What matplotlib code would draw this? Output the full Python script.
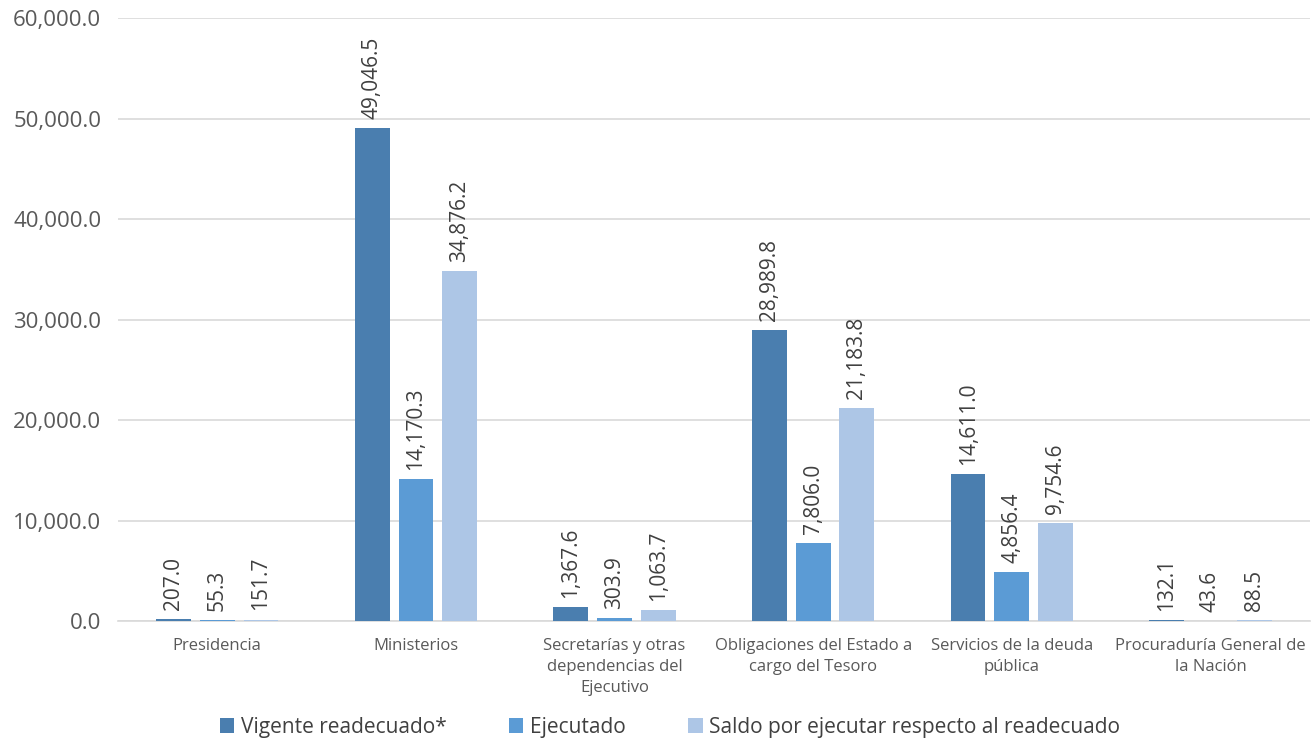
import numpy as np
import matplotlib
matplotlib.use("Agg")
import matplotlib.pyplot as plt
from matplotlib.ticker import FuncFormatter

plt.rcParams['font.family'] = ['Open Sans', 'DejaVu Sans']

categories = [
    "Presidencia",
    "Ministerios",
    "Secretarías y otras\ndependencias del\nEjecutivo",
    "Obligaciones del Estado a\ncargo del Tesoro",
    "Servicios de la deuda\npública",
    "Procuraduría General de\nla Nación",
]
series_names = ["Vigente readecuado*", "Ejecutado", "Saldo por ejecutar respecto al readecuado"]
vigente = [207.0, 49046.5, 1367.6, 28989.8, 14611.0, 132.1]
ejecutado = [55.3, 14170.3, 303.9, 7806.0, 4856.4, 43.6]
saldo = [151.7, 34876.2, 1063.7, 21183.8, 9754.6, 88.5]
colors = ["#4A7EAF", "#5B9BD5", "#ADC6E6"]

fig = plt.figure(figsize=(13.15, 7.38), dpi=100)
ax = fig.add_axes([0.0897, 0.1585, 0.9063, 0.817])

x = np.arange(len(categories))
width = 0.175
step = 0.22
for i, (vals, name, c) in enumerate(zip([vigente, ejecutado, saldo], series_names, colors)):
    pos = x + (i - 1) * step
    ax.bar(pos, vals, width, color=c, label=name, zorder=3)
    for xi, v in zip(pos, vals):
        ax.text(xi, v + 900, f"{v:,.1f}", rotation=90, ha='center', va='bottom',
                fontsize=15, color='#404040')

ax.set_xlim(-0.5, len(categories) - 0.5)
ax.set_ylim(0, 60000)
ax.set_yticks(np.arange(0, 60001, 10000))
ax.yaxis.set_major_formatter(FuncFormatter(lambda v, p: f"{v:,.1f}"))
ax.tick_params(axis='y', length=0, labelsize=16, labelcolor='#595959', pad=12)
ax.set_xticks(x)
ax.set_xticklabels(categories, fontsize=12, color='#595959', linespacing=1.45)
ax.tick_params(axis='x', length=0, pad=12)
ax.grid(axis='y', color='#D9D9D9', linewidth=1.2, zorder=0)
for s in ['top', 'right', 'left']:
    ax.spines[s].set_visible(False)
ax.spines['bottom'].set_color('#D9D9D9')
ax.spines['bottom'].set_linewidth(1.2)

ax.legend(loc='lower center', bbox_to_anchor=(0.463, -0.225), ncol=3, frameon=False,
          fontsize=15, handlelength=0.7, handleheight=0.7, handletextpad=0.3,
          columnspacing=3.0, labelcolor='#404040')

fig.savefig("out.png", dpi=100, facecolor='white')
plt.close(fig)
